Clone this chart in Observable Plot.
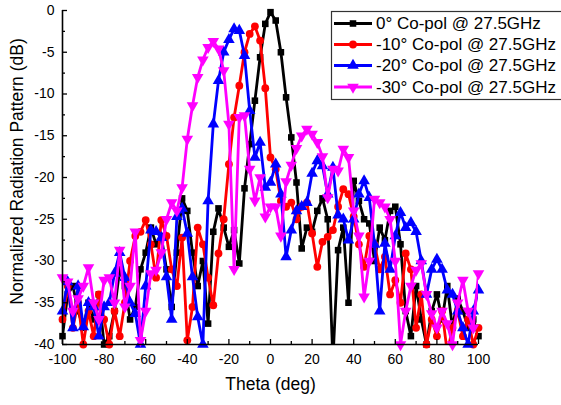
<!DOCTYPE html>
<html>
<head>
<meta charset="utf-8">
<script src="https://cdn.jsdelivr.net/npm/d3@7"></script>
<script src="https://cdn.jsdelivr.net/npm/@observablehq/plot@0.6"></script>
<style>
  html, body { margin: 0; padding: 0; background: #fff; overflow: hidden; }
  #chart { width: 561px; height: 405px; }
</style>
</head>
<body>
<div id="chart"></div>
<script>
// ---- data ----
const theta = [-100, -97.5, -95, -92.5, -90, -87.5, -85, -82.5, -80, -77.5,
  -75, -72.5, -70, -67.5, -65, -62.5, -60, -57.5, -55, -52.5,
  -50, -47.5, -45, -42.5, -40, -37.5, -35, -32.5, -30, -27.5,
  -25, -22.5, -20, -17.5, -15, -12.5, -10, -7.5, -5, -2.5,
  0, 2.5, 5, 7.5, 10, 12.5, 15, 17.5, 20, 22.5,
  25, 27.5, 30, 32.5, 35, 37.5, 40, 42.5, 45, 47.5,
  50, 52.5, 55, 57.5, 60, 62.5, 65, 67.5, 70, 72.5,
  75, 77.5, 80, 82.5, 85, 87.5, 90, 92.5, 95, 97.5, 100];

const copol0 = [-39, -34, -33, -36, -38, -35, -37, -34, -40, -39,
  -36, -31, -33, -37, -35.5, -31, -29, -26, -28, -27,
  -31, -35.5, -29, -22.5, -24, -29, -33, -30, -37.5, -26.5,
  -23.7, -26, -28.3, -26.3, -30.3, -21.3, -16, -10.8, -5.6, -1.6,
  -0.2, -1.2, -5, -10.4, -15.2, -20.6, -28.5, -26, -26.5, -24,
  -22.5, -25, -42, -28.7, -26, -35, -20.4, -22.8, -25, -25.5,
  -30, -26, -27.5, -24, -23.5, -28, -36, -39, -33, -37,
  -40, -36, -34, -37, -33, -38, -34.5, -36, -38, -37, -39];

const copolM10 = [-37, -33, -38, -35, -40, -36, -39, -34, -37, -40,
  -36, -39, -35, -30, -27, -26.5, -25.1, -28, -32, -25.1,
  -27, -31, -33, -27.2, -39.5, -35.5, -26, -28, -32, -35.3,
  -29.1, -25, -18.4, -12.8, -9, -5, -2.8, -1.9, -3.6, -9.3,
  -17.6, -19, -22.8, -23.5, -23, -25, -23.5, -23, -26.7, -30.7,
  -27.7, -27.1, -26.3, -23.5, -21.4, -22, -24.7, -28, -30.7, -27,
  -28, -31, -29.5, -34, -32.3, -35, -29.1, -31, -38, -34,
  -40, -37, -39, -36, -41, -38, -36, -39, -37, -40, -38];

const copolM20 = [-36, -32.5, -38, -33, -37.9, -35, -35.5, -39, -35.5, -35,
  -31.5, -29, -32, -35, -36.3, -40, -33, -26.3, -26.5, -27.2,
  -31.9, -37, -24.7, -23.7, -26.7, -31.9, -36.7, -40, -22.8, -13.6,
  -8.4, -5, -3.5, -2.2, -2.4, -5.4, -12, -17.6, -15.8, -21.2,
  -20.6, -18.4, -22, -29.5, -26.3, -24, -23.5, -23, -19.5, -18,
  -18.6, -22, -18.8, -24.5, -25, -27.5, -25, -22, -20.4, -22.4,
  -28, -36, -27.9, -31, -27, -24.2, -26, -25.4, -26.5, -30,
  -34, -31, -29.8, -31, -33.5, -34, -36, -38, -40, -36, -33.5];

const copolM30 = [-32, -32.5, -36, -34.5, -33, -30.8, -35, -37, -32.3, -32,
  -35, -28.7, -35.5, -33, -26.5, -39.5, -36, -31.5, -31.1, -29,
  -25, -23, -24, -21.2, -15.4, -11.4, -8, -5.9, -4.4, -3.7,
  -4.6, -7.2, -13.6, -31, -12.8, -12.6, -19, -22.8, -20, -24.7,
  -23.5, -23.5, -27, -20.5, -18.5, -16.5, -15, -14.2, -14.8, -15.8,
  -17.5, -22.4, -19, -19.2, -16.6, -17.6, -24, -27, -34.3, -30,
  -22.6, -23, -23.5, -25, -30, -40, -36, -33, -31.1, -30.3,
  -34, -36.3, -38, -36, -37.5, -40, -35, -32.3, -36, -38, -31.5];

const seriesNames = ["0° Co-pol @ 27.5GHz", "-10° Co-pol @ 27.5GHz", "-20° Co-pol @ 27.5GHz", "-30° Co-pol @ 27.5GHz"];
const xTicks = [-100, -80, -60, -40, -20, 0, 20, 40, 60, 80, 100];
const xMinorTicks = [-90, -70, -50, -30, -10, 10, 30, 50, 70, 90];
const yTicks = [0, -5, -10, -15, -20, -25, -30, -35, -40];
const yMinorTicks = [-2.5, -7.5, -12.5, -17.5, -22.5, -27.5, -32.5, -37.5];

// ---- styling ----
const colors = ["#000000", "#ff0000", "#0000ff", "#ff00ff"];
const sqrt3 = Math.sqrt(3);
const triangleDown = {
  draw(context, size) {
    const y = -Math.sqrt(size / (sqrt3 * 3));
    context.moveTo(0, -y * 2);
    context.lineTo(-sqrt3 * y, y);
    context.lineTo(sqrt3 * y, y);
    context.closePath();
  }
};
const symbols = [d3.symbolSquare, d3.symbolCircle, d3.symbolTriangle, triangleDown];
const radii = [3.7, 3.9, 4.3, 4.3];

const W = 561, H = 405;
const mL = 62, mR = 83, mT = 10, mB = 61;
const frameW = W - mL - mR, frameH = H - mT - mB;

const allValues = [copol0, copolM10, copolM20, copolM30];
const series = allValues.map((vals, k) => theta.map((t, i) => ({t, v: vals[i], k})));

const marks = [];
series.forEach((data, k) => {
  marks.push(Plot.line(data, {x: "t", y: "v", stroke: colors[k], strokeWidth: 2.8, clip: true}));
  marks.push(Plot.dot(data.filter(d => d.v >= -40.3), {x: "t", y: "v", fill: colors[k], stroke: "none", symbol: symbols[k], r: radii[k]}));
});

const fmt = d => String(d);
const chart = Plot.plot({
  width: W, height: H,
  marginLeft: mL, marginRight: mR, marginTop: mT, marginBottom: mB,
  style: {fontFamily: "'Liberation Sans', Arial, sans-serif", fontSize: "14px", background: "#fff", color: "#000"},
  x: {domain: [-100, 100]},
  y: {domain: [-40, 0]},
  marks: [
    ...marks,
    Plot.axisX({ticks: xTicks, tickSize: 0, tickPadding: 10, tickFormat: fmt, label: null, fontSize: 14}),
    Plot.axisY({ticks: yTicks, tickSize: 0, tickPadding: 8, tickFormat: fmt, label: null, fontSize: 14}),
    Plot.tickX(xTicks, {x: d => d, insetTop: frameH - 5, stroke: "#000", strokeWidth: 1.3}),
    Plot.tickX(xMinorTicks, {x: d => d, insetTop: frameH - 3, stroke: "#000", strokeWidth: 1.3}),
    Plot.tickY(yTicks, {y: d => d, insetRight: frameW - 5, stroke: "#000", strokeWidth: 1.3}),
    Plot.tickY(yMinorTicks, {y: d => d, insetRight: frameW - 3, stroke: "#000", strokeWidth: 1.3}),
    Plot.ruleX([-100], {stroke: "#000", strokeWidth: 1.6}),
    Plot.ruleY([-40], {stroke: "#000", strokeWidth: 1.6}),
    Plot.text(["Theta (deg)"], {frameAnchor: "bottom", dy: 45, fontSize: 17.5, fill: "#000", textAnchor: "middle"}),
    Plot.text(["Normalized Radiation Pattern (dB)"], {frameAnchor: "left", dx: -45, dy: -6, rotate: -90, fontSize: 17.5, fill: "#000", textAnchor: "middle"})
  ]
});
document.getElementById("chart").appendChild(chart);

// ---- legend box (upper right, over the plot) ----
const svg = d3.select(chart);
const lg = svg.append("g").attr("font-family", "'Liberation Sans', Arial, sans-serif").attr("text-anchor", "start");
lg.append("rect").attr("x", 331.5).attr("y", 11.5).attr("width", 260).attr("height", 88)
  .attr("fill", "#fff").attr("stroke", "#333").attr("stroke-width", 1.2);
const rowY = [23.5, 44.5, 65.5, 87];
seriesNames.forEach((name, k) => {
  const y = rowY[k];
  lg.append("line").attr("x1", 334).attr("x2", 372).attr("y1", y).attr("y2", y)
    .attr("stroke", colors[k]).attr("stroke-width", 2.8);
  lg.append("path").attr("transform", `translate(353,${y})`)
    .attr("d", d3.symbol().type(symbols[k]).size(Math.PI * radii[k] * radii[k])())
    .attr("fill", colors[k]);
  lg.append("text").attr("x", 376).attr("y", y).attr("dy", "0.35em")
    .attr("text-anchor", "start")
    .attr("font-size", 17).attr("fill", "#000").text(name);
});
</script>
</body>
</html>
